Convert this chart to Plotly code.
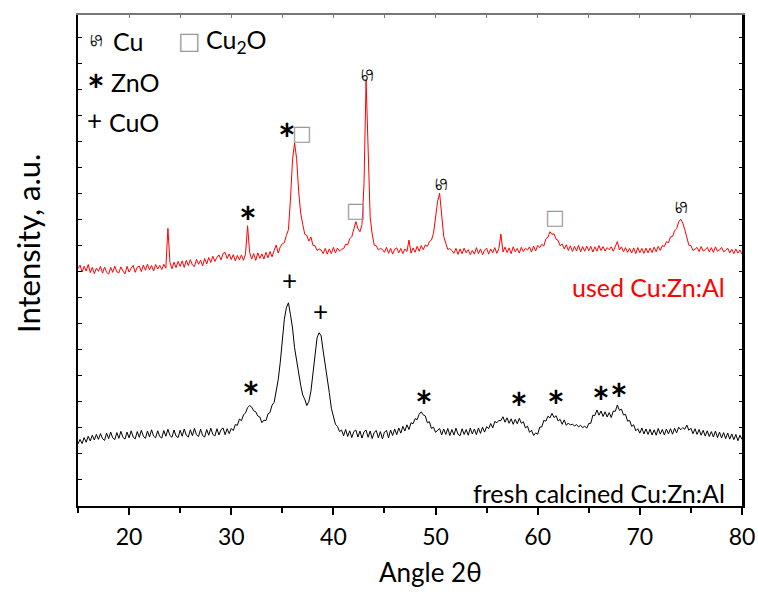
import numpy as np
import plotly.graph_objects as go

# 2-theta scan grid (deg), 0.2 deg step
two_theta = np.round(np.arange(15.0, 80.0001, 0.2), 1)

# used Cu:Zn:Al catalyst (a.u., offset pattern)
used = [
    912, 926, 899, 921, 903, 928, 897, 917, 893, 914,
    902, 921, 895, 918, 899, 891, 917, 898, 922, 900,
    896, 919, 903, 892, 921, 899, 914, 925, 898, 918,
    922, 901, 926, 906, 929, 908, 924, 903, 928, 911,
    925, 909, 929, 914, 1067, 936, 912, 937, 916, 940,
    921, 942, 917, 944, 924, 947, 926, 920, 948, 929,
    945, 923, 951, 930, 955, 936, 960, 940, 956, 965,
    946, 970, 975, 951, 969, 947, 966, 942, 963, 946,
    965, 944, 969, 1077, 975, 949, 970, 944, 973, 952,
    969, 949, 975, 954, 978, 958, 982, 1003, 972, 996,
    1008, 1012, 1040, 1062, 1180, 1330, 1396, 1335, 1210, 1125,
    1083, 1044, 1040, 1018, 1034, 1002, 1000, 982, 988, 984,
    970, 990, 968, 988, 970, 994, 973, 991, 980, 987,
    989, 1006, 1004, 1027, 1035, 1066, 1093, 1066, 1054, 1082,
    1240, 1637, 1330, 1110, 1045, 1002, 1000, 984, 990, 986,
    975, 994, 971, 990, 968, 987, 992, 973, 990, 970,
    988, 978, 1022, 972, 992, 975, 998, 979, 1001, 985,
    1003, 998, 1016, 1022, 1048, 1100, 1170, 1202, 1108, 1036,
    1010, 986, 989, 982, 971, 990, 967, 988, 970, 991,
    973, 985, 966, 982, 968, 993, 970, 988, 966, 983,
    991, 968, 988, 973, 993, 971, 990, 1045, 976, 995,
    974, 992, 970, 996, 977, 990, 972, 994, 978, 991,
    984, 996, 976, 999, 980, 1002, 993, 1006, 999, 1027,
    1033, 1054, 1044, 1046, 1025, 1021, 1000, 1007, 988, 1004,
    982, 1000, 978, 998, 980, 1002, 977, 997, 979, 999,
    981, 998, 976, 996, 979, 1001, 982, 997, 980, 993,
    985, 996, 979, 1000, 1016, 984, 996, 977, 993, 975,
    990, 972, 992, 970, 993, 974, 990, 971, 991, 973,
    991, 974, 995, 977, 998, 982, 1001, 997, 1016, 1012,
    1034, 1036, 1058, 1066, 1092, 1102, 1088, 1062, 1030, 1002,
    1001, 982, 987, 994, 978, 997, 980, 985, 994, 977,
    993, 975, 996, 979, 984, 994, 977, 982, 991, 973,
    987, 970, 988, 972, 984, 968,
]

# fresh calcined Cu:Zn:Al catalyst (a.u.)
fresh = [
    238, 256, 240, 263, 245, 268, 250, 272, 254, 275,
    256, 278, 259, 252, 280, 259, 284, 262, 255, 282,
    260, 287, 264, 257, 284, 262, 289, 265, 258, 286,
    264, 291, 268, 260, 288, 265, 293, 269, 262, 289,
    267, 261, 290, 268, 295, 271, 264, 292, 269, 263,
    291, 268, 296, 272, 265, 293, 270, 298, 274, 267,
    295, 271, 265, 294, 272, 299, 275, 269, 297, 273,
    293, 300, 274, 297, 278, 298, 290, 313, 310, 334,
    328, 350, 358, 378, 386, 380, 366, 362, 346, 342,
    320, 330, 328, 354, 360, 388, 398, 444, 486, 552,
    626, 718, 762, 781, 735, 684, 608, 559, 501, 464,
    426, 410, 386, 402, 441, 506, 576, 646, 666, 654,
    596, 546, 486, 436, 376, 350, 314, 306, 286, 292,
    270, 294, 267, 289, 263, 286, 292, 265, 288, 261,
    285, 292, 264, 288, 259, 283, 290, 262, 286, 258,
    284, 290, 262, 292, 271, 296, 274, 300, 280, 306,
    288, 312, 294, 320, 316, 336, 332, 353, 362, 350,
    346, 320, 324, 298, 303, 283, 292, 298, 273, 296,
    275, 298, 271, 294, 273, 299, 276, 270, 297, 275,
    294, 272, 299, 277, 296, 274, 300, 279, 303, 284,
    305, 297, 317, 300, 325, 320, 329, 328, 343, 322,
    339, 318, 335, 314, 333, 316, 337, 318, 324, 300,
    307, 283, 291, 271, 281, 276, 303, 304, 329, 326,
    345, 339, 356, 340, 347, 327, 333, 314, 331, 310,
    319, 311, 315, 307, 313, 304, 310, 301, 307, 299,
    317, 318, 349, 348, 369, 349, 365, 344, 362, 342,
    359, 340, 365, 364, 388, 368, 372, 350, 352, 326,
    329, 306, 312, 289, 297, 280, 300, 277, 296, 275,
    295, 273, 293, 272, 298, 276, 294, 273, 296, 277,
    297, 276, 299, 281, 303, 293, 301, 295, 311, 291,
    299, 278, 297, 275, 294, 272, 291, 269, 289, 267,
    286, 265, 288, 263, 284, 261, 282, 259, 280, 257,
    277, 255, 275, 251, 272, 256,
]

assert len(used) == len(two_theta) and len(fresh) == len(two_theta)

x_ticks = [20, 30, 40, 50, 60, 70, 80]

# phase symbols
CU = "\u264B"        # metallic Cu
CU2O = "\u25A1"      # Cu2O
ZNO = "<b>*</b>"     # ZnO
CUO = "+"            # CuO

# (2theta, intensity, symbol) peak labels for each pattern
used_marks = [
    (31.64, 1091, ZNO), (35.50, 1410, ZNO), (36.92, 1432, CU2O),
    (42.17, 1139, CU2O), (43.25, 1656, CU), (50.48, 1237, CU),
    (61.65, 1109, CU2O), (74.03, 1150, CU),
]
fresh_marks = [
    (35.70, 870, CUO), (38.76, 749, CUO),
    (31.94, 418, ZNO), (48.84, 385, ZNO), (58.13, 375, ZNO),
    (61.77, 383, ZNO), (66.16, 398, ZNO), (67.96, 413, ZNO),
]

FONT = "Lato, 'Liberation Sans', sans-serif"
SYM_FONT = "'DejaVu Sans', sans-serif"

fig = go.Figure()
fig.add_trace(go.Scatter(x=two_theta, y=used, mode="lines",
                         line=dict(color="#ff0000", width=1), showlegend=False))
fig.add_trace(go.Scatter(x=two_theta, y=fresh, mode="lines",
                         line=dict(color="#000000", width=1), showlegend=False))
# carrier for the top/right frame axes
fig.add_trace(go.Scatter(x=[None], y=[None], xaxis="x2", yaxis="y2",
                         showlegend=False, hoverinfo="skip"))


def mark_style(sym, big=False):
    if sym == CU:
        return dict(size=17, family=SYM_FONT, color="black")
    if sym == CU2O:
        return dict(size=24 if big else 21, family=SYM_FONT, color="#9a9a9a")
    if sym == ZNO:
        return dict(size=42, family=FONT, color="black")
    return dict(size=26, family=FONT, color="black")


def mark_angle(sym):
    # the Cu sign is set lying on its side
    return 90 if sym == CU else 0


annotations = []
for x, y, s in used_marks + fresh_marks:
    annotations.append(dict(x=x, y=y, xref="x", yref="y", text=s, showarrow=False,
                            font=mark_style(s), textangle=mark_angle(s),
                            xanchor="center", yanchor="middle"))

# key in the upper-left corner
TXT = dict(size=25, family=FONT, color="black")
key = [
    (16.76, 1787, CU, "center", mark_style(CU)),
    (18.20, 1787, "Cu", "left", TXT),
    (25.87, 1787, CU2O, "center", mark_style(CU2O, big=True)),
    (27.33, 1787, "Cu<sub>2</sub>O", "left", TXT),
    (16.76, 1598, ZNO, "center", mark_style(ZNO)),
    (18.03, 1631, "ZnO", "left", TXT),
    (16.66, 1483, CUO, "center", mark_style(CUO)),
    (17.84, 1476, "CuO", "left", TXT),
]
for x, y, t, xa, f in key:
    annotations.append(dict(x=x, y=y, xref="x", yref="y", text=t, showarrow=False,
                            font=f, textangle=mark_angle(t),
                            xanchor=xa, yanchor="middle"))

# pattern names
annotations.append(dict(x=78.53, y=842, xref="x", yref="y", text="used Cu:Zn:Al",
                        showarrow=False, xanchor="right", yanchor="middle",
                        font=dict(size=25, family=FONT, color="#ff0000")))
annotations.append(dict(x=78.53, y=50, xref="x", yref="y", text="fresh calcined Cu:Zn:Al",
                        showarrow=False, xanchor="right", yanchor="middle",
                        font=dict(size=25, family=FONT, color="black")))

W, H = 758, 592
ML, MR, MT, MB = 78, 16, 15, 86

# axis titles, placed in pixels and converted to paper fractions
titles = [
    (431, 572, "Angle 2\u03b8", 0, 26),
    (28, 243, "Intensity, a.u.", -90, 31),
]
for px, py, t, ang, size in titles:
    annotations.append(dict(x=(px - ML) / (W - ML - MR), y=(H - py - MB) / (H - MT - MB),
                            xref="paper", yref="paper", text=t, showarrow=False,
                            xanchor="center", yanchor="middle", textangle=ang,
                            font=dict(size=size, family=FONT, color="black")))

X_RANGE = [15, 80]
Y_RANGE = [0, 1887]

fig.update_layout(
    width=W, height=H,
    margin=dict(l=ML, r=MR, t=MT, b=MB, autoexpand=False),
    paper_bgcolor="white", plot_bgcolor="white",
    annotations=annotations,
    xaxis=dict(range=X_RANGE, showline=True, linecolor="black", linewidth=2,
               showgrid=False, zeroline=False, ticks="outside", ticklen=7,
               tickwidth=1.5, tickcolor="black", tickvals=x_ticks, automargin=False,
               minor=dict(dtick=5, tick0=15, ticks="outside", ticklen=5,
                          tickwidth=1.5, tickcolor="black", showgrid=False),
               tickfont=dict(size=23, family=FONT, color="black"),
               ticklabelstandoff=2),
    yaxis=dict(range=Y_RANGE, showline=True, linecolor="black", linewidth=2,
               showgrid=False, zeroline=False, ticks="inside", ticklen=4,
               tickwidth=1, tickcolor="black", dtick=100, tick0=0,
               showticklabels=False, automargin=False),
    xaxis2=dict(range=X_RANGE, overlaying="x", side="top", anchor="y",
                showline=True, linecolor="#777777", linewidth=2, showgrid=False,
                zeroline=False, ticks="inside", ticklen=3, tickcolor="#777777",
                dtick=5, tick0=15, showticklabels=False, automargin=False),
    yaxis2=dict(range=Y_RANGE, overlaying="y", side="right", anchor="x",
                showline=True, linecolor="black", linewidth=2.5, showgrid=False,
                zeroline=False, ticks="inside", ticklen=3, tickcolor="black",
                dtick=100, tick0=0, showticklabels=False, automargin=False),
)

fig.write_html("out.html")
